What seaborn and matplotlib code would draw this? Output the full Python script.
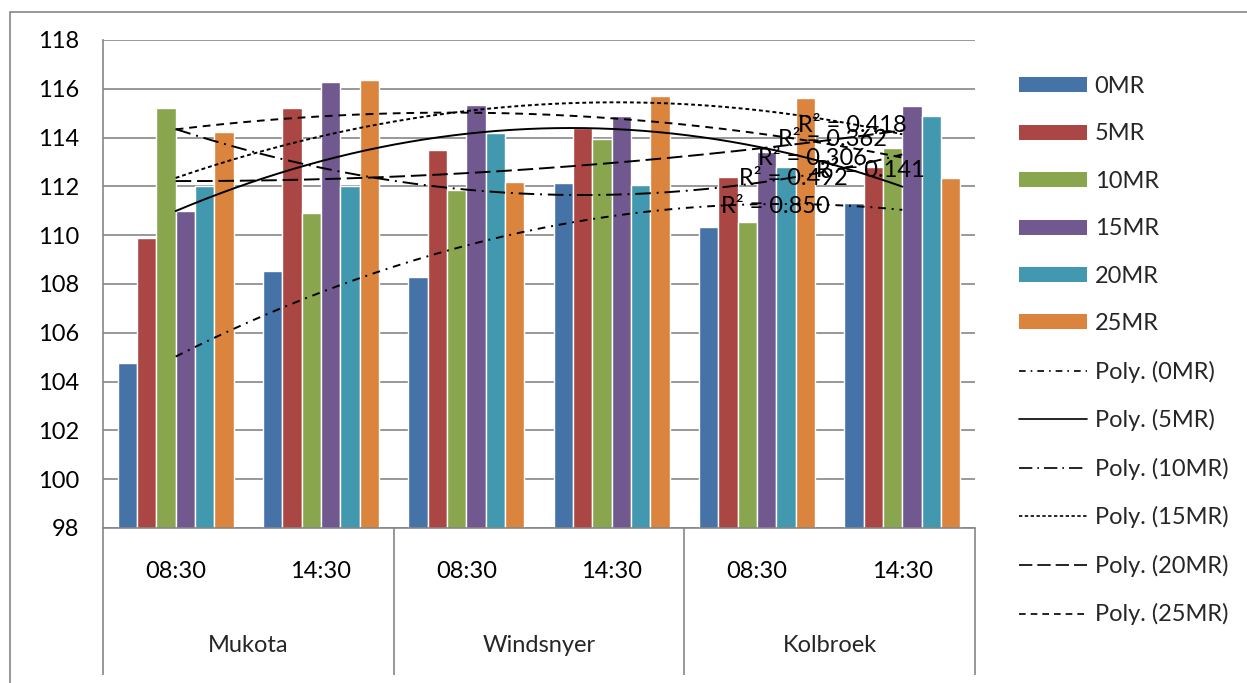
import itertools
import numpy as np
import pandas as pd
import matplotlib
matplotlib.use("Agg")
import matplotlib.pyplot as plt
import seaborn as sns
from matplotlib.patches import Patch, Rectangle
from matplotlib.lines import Line2D

# --- data ---
sites = ["Mukota", "Windsnyer", "Kolbroek"]
times = ["08:30", "14:30"]
series = ["0MR", "5MR", "10MR", "15MR", "20MR", "25MR"]

mr0 = [104.75, 108.55, 108.27, 112.12, 110.33, 111.33]
mr5 = [109.87, 115.23, 113.49, 114.38, 112.40, 112.79]
mr10 = [115.23, 110.92, 111.85, 113.96, 110.56, 113.57]
mr15 = [111.00, 116.28, 115.32, 114.87, 113.42, 115.31]
mr20 = [112.00, 112.00, 114.17, 112.04, 112.78, 114.87]
mr25 = [114.21, 116.36, 112.16, 115.70, 115.62, 112.33]

r2_labels = ["R² = 0.418", "R² = 0.362", "R² = 0.306", "R² = 0.141", "R² = 0.492", "R² = 0.850"]

# --- styling ---
colors = ["#4572A7", "#AA4643", "#89A54E", "#71588F", "#4198AF", "#DB843D"]
trend_styles = [(0, (4, 3, 1, 3)), "-", (0, (8, 3, 1, 3)), (0, (2, 1.5)), (0, (8, 3)), (0, (4, 3))]
r2_pos = [(4.654, 114.50), (4.516, 113.94), (4.385, 113.16), (4.78, 112.67), (4.248, 112.34), (4.124, 111.16)]
grey = "#868686"
fs = 17

sns.set_style("white")
plt.rcParams["font.family"] = ["Lato", "DejaVu Sans"]

cats = [f"{s} {t}" for s, t in itertools.product(sites, times)]
rows = []
for name, vals in zip(series, [mr0, mr5, mr10, mr15, mr20, mr25]):
    for c, v in zip(cats, vals):
        rows.append({"cat": c, "series": name, "value": v})
df = pd.DataFrame(rows)

fig = plt.figure(figsize=(12.47, 6.83), dpi=100)
ax = fig.add_axes([103 / 1247, 1 - 528 / 683, 872 / 1247, 488 / 683])

sns.barplot(data=df, x="cat", y="value", hue="series", order=cats, hue_order=series,
            palette=colors, width=0.8, saturation=1, legend=False, ax=ax)

# polynomial (order 2) trendlines as in the spreadsheet
xs = np.linspace(0, 5, 200)
for name, ls in zip(series, trend_styles):
    vals = df[df["series"] == name]["value"].to_numpy()
    coef = np.polyfit(np.arange(len(vals)), vals, 2)
    ax.plot(xs, np.polyval(coef, xs), color="black", lw=1.4, linestyle=ls)

for lab, (x, y) in zip(r2_labels, r2_pos):
    ax.text(x, y, lab, ha="center", va="center", fontsize=fs, color="black")

ax.set_ylim(98, 118)
ax.set_yticks(np.arange(98, 119, 2))
ax.set_xlim(-0.5, 5.5)
ax.set_xticks(range(6))
ax.set_xticklabels(times * 3)
ax.set_xlabel("")
ax.set_ylabel("")
ax.tick_params(axis="both", length=0, labelsize=fs, colors="black")
ax.tick_params(axis="y", pad=17)
ax.tick_params(axis="x", pad=24)

ax.set_axisbelow(True)
ax.yaxis.grid(True, color=grey, lw=1.2)
ax.xaxis.grid(False)
for side in ["top", "right"]:
    ax.spines[side].set_visible(False)
for side in ["left", "bottom"]:
    ax.spines[side].set_color(grey)
    ax.spines[side].set_linewidth(1.2)

# multi-level category axis
ax.vlines([-0.5, 1.5, 3.5, 5.5], -0.301, 0, transform=ax.get_xaxis_transform(),
          colors=grey, lw=1.2, clip_on=False)
for i, site in enumerate(sites):
    ax.text(2 * i + 0.5, -0.24, site, transform=ax.get_xaxis_transform(),
            ha="center", va="center", fontsize=fs)

# chart border
fig.add_artist(Rectangle((10 / 1247, -0.05), 1.1, 1 - 12 / 683 + 0.05,
                         transform=fig.transFigure, fill=False, edgecolor=grey, lw=1.2))

handles = [Patch(facecolor=c, edgecolor="none") for c in colors]
handles += [Line2D([], [], color="black", lw=1.2, linestyle=ls) for ls in trend_styles]
labels = series + [f"Poly. ({s})" for s in series]
fig.legend(handles, labels, loc="upper left", bbox_to_anchor=(1019 / 1247, 1 - 76 / 683),
           frameon=False, fontsize=fs, handlelength=2.9, handleheight=0.6,
           handletextpad=0.3, labelspacing=1.12, borderpad=0, borderaxespad=0)

fig.savefig("out.png", dpi=100)
